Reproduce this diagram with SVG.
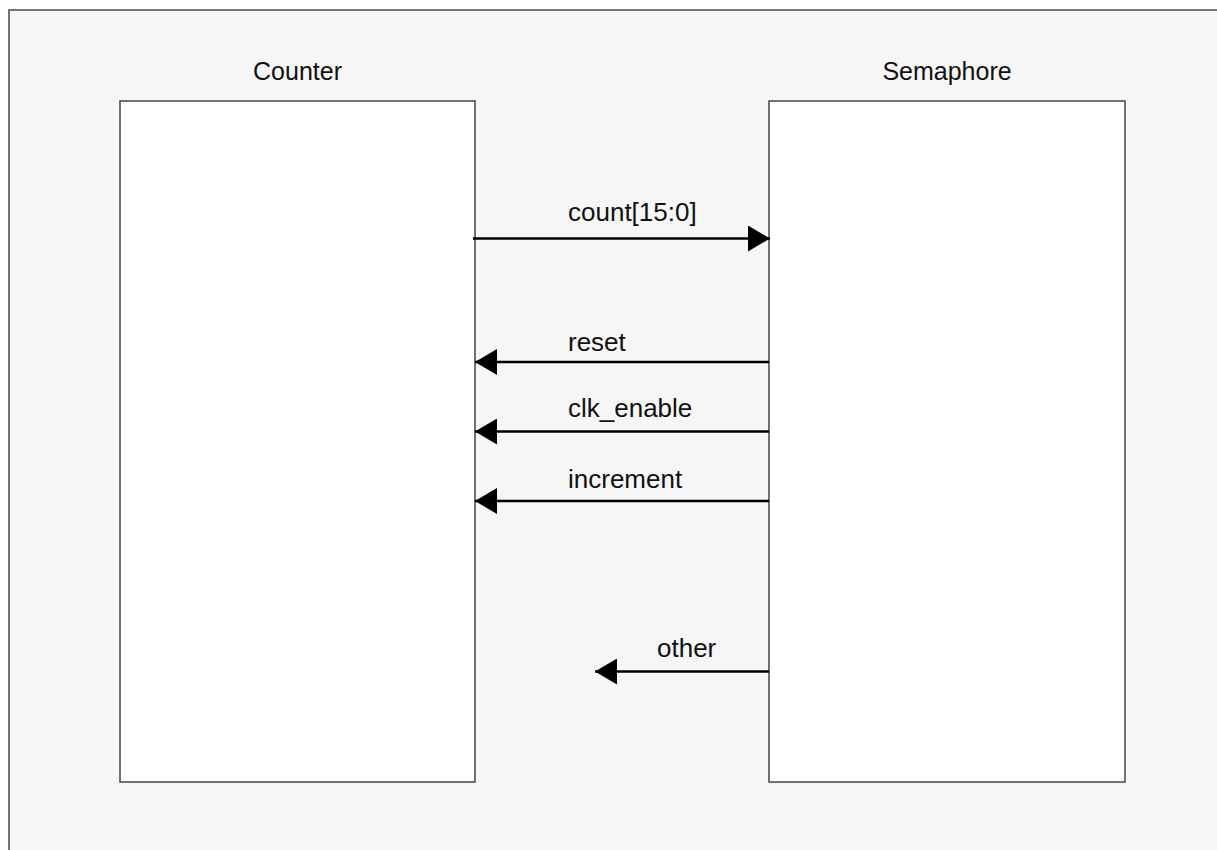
<svg xmlns="http://www.w3.org/2000/svg" width="1217" height="850" viewBox="0 0 1217 850">
  <style>
    .frame { fill: #f6f6f6; stroke: #747474; stroke-width: 2; }
    .block { fill: #ffffff; stroke: #444444; stroke-width: 1.5; }
    .title { font-family: "Liberation Sans", Arial, sans-serif; font-size: 25px; fill: #111111; text-anchor: middle; }
    .sig { font-family: "Liberation Sans", Arial, sans-serif; font-size: 26px; fill: #111111; }
    .wire { stroke: #000000; stroke-width: 2.5; fill: none; }
  </style>
  <defs>
    <marker id="head" viewBox="0 0 22 26" refX="22" refY="13" markerWidth="22" markerHeight="26" markerUnits="userSpaceOnUse" orient="auto">
      <path d="M0,0 L22,13 L0,26 Z" fill="#000000"/>
    </marker>
  </defs>

  <rect width="1217" height="850" fill="#ffffff"/>
  <rect class="frame" x="9" y="10" width="1230" height="860"/>

  <g id="counter">
    <text class="title" x="297.5" y="80">Counter</text>
    <rect class="block" x="120" y="101" width="355" height="681"/>
  </g>

  <g id="semaphore">
    <text class="title" x="947" y="80">Semaphore</text>
    <rect class="block" x="769" y="101" width="356" height="681"/>
  </g>

  <g id="connectors">
    <line class="wire" x1="473" y1="238.5" x2="770" y2="238.5" marker-end="url(#head)"/>
    <text class="sig" x="568" y="221">count[15:0]</text>

    <line class="wire" x1="769" y1="362" x2="475" y2="362" marker-end="url(#head)"/>
    <text class="sig" x="568" y="351">reset</text>

    <line class="wire" x1="769" y1="431.5" x2="475" y2="431.5" marker-end="url(#head)"/>
    <text class="sig" x="568" y="417">clk_enable</text>

    <line class="wire" x1="769" y1="501" x2="475" y2="501" marker-end="url(#head)"/>
    <text class="sig" x="568" y="488">increment</text>

    <line class="wire" x1="769" y1="671.5" x2="595" y2="671.5" marker-end="url(#head)"/>
    <text class="sig" x="657" y="657">other</text>
  </g>
</svg>
